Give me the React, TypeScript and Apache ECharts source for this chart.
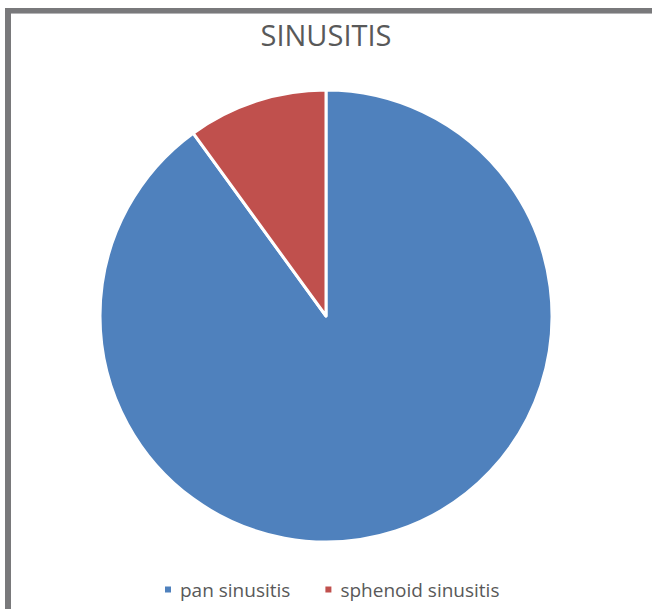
import React, { useEffect, useRef } from "react";
import * as echarts from "echarts";

const categories = ["pan sinusitis", "sphenoid sinusitis"];
const values = [90, 10];
const colors = ["#4F81BD", "#C0504D"];
const titleText = "SINUSITIS";

export default function App() {
  const ref = useRef<HTMLDivElement>(null);
  useEffect(() => {
    if (!ref.current) return;
    const chart = echarts.init(ref.current, null, { renderer: "svg" });
    chart.setOption({
      animation: false,
      backgroundColor: "#ffffff",
      title: {
        text: titleText,
        left: "center",
        top: 15,
        textStyle: { fontFamily: "Open Sans", fontSize: 29, fontWeight: "normal", color: "#595959" },
      },
      legend: {
        data: categories,
        bottom: 5,
        left: 158,
        icon: "rect",
        itemWidth: 8,
        itemHeight: 8,
        itemGap: 33,
        textStyle: { fontFamily: "Open Sans", fontSize: 19, color: "#595959", padding: [0, 0, 0, 3] },
      },
      graphic: [
        { type: "rect", shape: { x: 5, y: 8, width: 647, height: 5 }, style: { fill: "#79797b" }, z: 100 },
        { type: "rect", shape: { x: 11, y: 13, width: 641, height: 1 }, style: { fill: "#b4b4b6" }, z: 100 },
        { type: "rect", shape: { x: 5, y: 8, width: 6, height: 601 }, style: { fill: "#79797b" }, z: 100 },
      ],
      series: [
        {
          type: "pie",
          center: [326, 316],
          radius: 226,
          startAngle: 90,
          clockwise: true,
          label: { show: false },
          labelLine: { show: false },
          emphasis: { disabled: true },
          itemStyle: { borderColor: "#ffffff", borderWidth: 3 },
          data: categories.map((name, i) => ({ name, value: values[i], itemStyle: { color: colors[i] } })),
        },
      ],
    });
    return () => chart.dispose();
  }, []);
  return <div ref={ref} style={{ position: "fixed", left: 0, top: 0, width: 652, height: 609 }} />;
}
